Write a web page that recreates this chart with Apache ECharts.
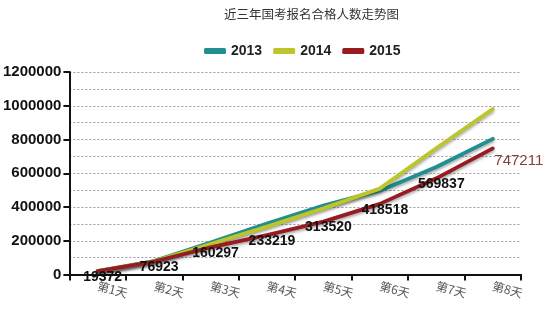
<!DOCTYPE html>
<html>
<head>
<meta charset="utf-8">
<script src="https://cdn.jsdelivr.net/npm/echarts@6/dist/echarts.min.js"></script>
<style>html,body{margin:0;padding:0;background:#fff;}#c{width:550px;height:317px;}</style>
</head>
<body>
<div id="c"></div>
<script>
var titleText = '近三年国考报名合格人数走势图';
var categories = ['第1天','第2天','第3天','第4天','第5天','第6天','第7天','第8天'];
var seriesNames = ['2013','2014','2015'];
var values2013 = [20000, 80000, 190000, 302000, 408000, 497000, 637000, 804000];
var values2014 = [18000, 78000, 180000, 284000, 392000, 509000, 748000, 981000];
var values2015 = [19372, 76923, 160297, 233219, 313520, 418518, 569837, 747211];
var yTicks = [0, 200000, 400000, 600000, 800000, 1000000, 1200000];

var colors = ['#1f8f8f', '#bcc62a', '#981b22'];
var chart = echarts.init(document.getElementById('c'));
var shadow = {shadowBlur: 3, shadowColor: 'rgba(0,0,0,0.35)', shadowOffsetY: 2};
function mk(name, data, color, withLabels) {
  var s = {
    name: name, type: 'line', data: data, symbol: 'circle', symbolSize: 0.01, showSymbol: true,
    itemStyle: {color: color},
    color: color,
    lineStyle: Object.assign({width: 3.8, color: color, cap: 'round', join: 'round'}, shadow),
    z: 2
  };
  if (withLabels) {
    s.label = {
      show: true, position: 'inside', offset: [5, 6],
      fontFamily: 'Liberation Sans, Arial, sans-serif', fontSize: 14, fontWeight: 'bold', color: '#111'
    };
    s.data = data.map(function (v, i) {
      if (i === data.length - 1) {
        return {value: v, label: {offset: [26, 12], color: '#8a3b3b', fontWeight: 'normal', fontSize: 15}};
      }
      return v;
    });
  }
  return s;
}
chart.setOption({
  animation: false,
  backgroundColor: '#fff',
  title: {
    text: titleText, left: 219, top: 3,
    textStyle: {fontSize: 12.5, fontWeight: 'normal', color: '#333', fontFamily: 'Noto Sans CJK SC, sans-serif'}
  },
  legend: {
    data: seriesNames, left: 199, top: 39, icon: 'roundRect', itemWidth: 22, itemHeight: 6, itemGap: 11,
    textStyle: {fontSize: 14, fontWeight: 'bold', color: '#222', fontFamily: 'Liberation Sans, Arial, sans-serif'}
  },
  grid: {left: 68, right: 29, top: 72, bottom: 42.5, containLabel: false},
  xAxis: {
    type: 'category', data: categories, boundaryGap: true,
    axisLine: {lineStyle: {color: '#111', width: 2}},
    axisTick: {show: true, length: 6, lineStyle: {color: '#111', width: 2}},
    axisLabel: {rotate: -15, margin: 11, fontSize: 12, color: '#555', fontFamily: 'Noto Sans CJK SC, sans-serif'},
    splitLine: {show: false}
  },
  yAxis: {
    type: 'value', min: yTicks[0], max: yTicks[yTicks.length - 1], interval: yTicks[1] - yTicks[0],
    axisLine: {show: true, lineStyle: {color: '#111', width: 2}},
    axisTick: {show: true, length: 6, lineStyle: {color: '#111', width: 2}},
    axisLabel: {margin: 8, fontSize: 15, fontWeight: 'bold', color: '#111', fontFamily: 'Liberation Sans, Arial, sans-serif',
      formatter: function (v) { return String(v); }},
    splitLine: {show: true, lineStyle: {color: '#9a9a9a', width: 1, type: [2, 2]}},
    minorTick: {show: false, splitNumber: 2},
    minorSplitLine: {show: true, lineStyle: {color: '#9a9a9a', width: 1, type: [2, 2]}}
  },
  series: [
    mk(seriesNames[0], values2013, colors[0], false),
    mk(seriesNames[1], values2014, colors[1], false),
    mk(seriesNames[2], values2015, colors[2], true)
  ]
});
</script>
</body>
</html>
